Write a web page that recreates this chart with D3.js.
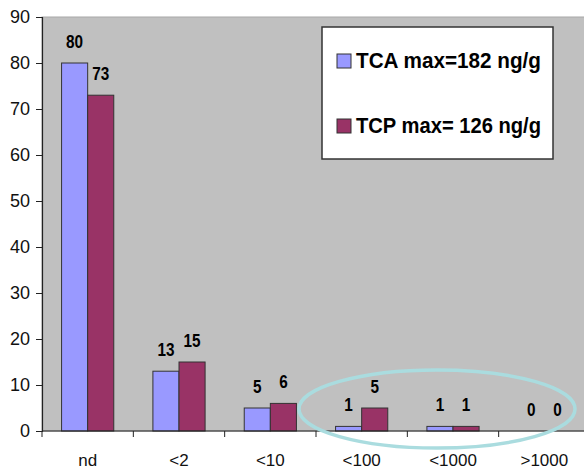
<!DOCTYPE html>
<html>
<head>
<meta charset="utf-8">
<script src="https://cdn.jsdelivr.net/npm/d3@7"></script>
<style>
  html, body { margin: 0; padding: 0; background: #fff; }
  svg { display: block; }
</style>
</head>
<body>
<script>
// Concentration classes (ng/g) and percentage of samples in each class
const categories = ["nd", "<2", "<10", "<100", "<1000", ">1000"];
const seriesNames = ["TCA", "TCP"];
const tcaValues = [80, 13, 5, 1, 1, 0];
const tcpValues = [73, 15, 6, 5, 1, 0];
const legendLabels = ["TCA  max=182 ng/g", "TCP max= 126 ng/g"];
const yTicks = [0, 10, 20, 30, 40, 50, 60, 70, 80, 90];
const colors = ["#9999ff", "#993366"];

const W = 584, H = 470;
const margin = { left: 42, top: 17, right: -6, bottom: 39 };

const svg = d3.select("body").append("svg")
  .attr("width", W).attr("height", H);

const x0 = d3.scaleBand()
  .domain(categories)
  .range([margin.left, W - margin.right])
  .padding(0);

const x1 = d3.scaleBand()
  .domain(seriesNames)
  .range([0, x0.bandwidth()])
  .paddingInner(0)
  .paddingOuter(0.75);

const y = d3.scaleLinear()
  .domain([0, 90])
  .range([H - margin.bottom, margin.top]);

// plot background
svg.append("rect")
  .attr("x", margin.left).attr("y", y(90))
  .attr("width", W - margin.left + 10).attr("height", y(0) - y(90))
  .attr("fill", "#c0c0c0")
  .attr("stroke", "#a8a8a8").attr("stroke-width", 1);

const rows = categories.map((c, i) => ({ cat: c, vals: [tcaValues[i], tcpValues[i]] }));

const groups = svg.append("g").selectAll("g")
  .data(rows).join("g")
  .attr("transform", d => `translate(${x0(d.cat)},0)`);

groups.selectAll("rect")
  .data(d => d.vals.map((v, k) => ({ s: seriesNames[k], v, k })))
  .join("rect")
  .attr("x", d => x1(d.s))
  .attr("y", d => y(d.v))
  .attr("width", x1.bandwidth())
  .attr("height", d => y(0) - y(d.v))
  .attr("fill", d => colors[d.k])
  .attr("stroke", "#333")
  .attr("stroke-width", 1);

// value labels above the bars
groups.selectAll("g.lbl")
  .data(d => d.vals.map((v, k) => ({ s: seriesNames[k], v, k })))
  .join("g")
  .attr("class", "lbl")
  .attr("transform", d => `translate(${x1(d.s) + x1.bandwidth() / 2},${y(d.v) - 15}) scale(0.85,1)`)
  .append("text")
  .attr("text-anchor", "middle")
  .attr("font-family", "Liberation Sans, Arial, sans-serif")
  .attr("font-weight", "bold")
  .attr("font-size", 18)
  .attr("fill", "#000")
  .text(d => d.v);

// y axis
const yAxis = d3.axisLeft(y).tickValues(yTicks).tickSize(6).tickPadding(6);
const gy = svg.append("g")
  .attr("transform", `translate(${margin.left},0)`)
  .call(yAxis);
gy.select(".domain").attr("stroke", "#222").attr("stroke-width", 1.2);
gy.selectAll(".tick line").attr("stroke", "#222");
gy.selectAll("text")
  .attr("font-family", "Liberation Sans, Arial, sans-serif")
  .attr("font-size", 18).attr("fill", "#111");

// x axis: ticks on category boundaries, labels centred in each band
const gx = svg.append("g")
  .attr("transform", `translate(0,${y(0)})`);
gx.append("line")
  .attr("x1", margin.left).attr("x2", W)
  .attr("stroke", "#222").attr("stroke-width", 1.2);
gx.selectAll("line.tk")
  .data(categories.concat(["end"]))
  .join("line")
  .attr("class", "tk")
  .attr("x1", (d, i) => margin.left + i * x0.bandwidth())
  .attr("x2", (d, i) => margin.left + i * x0.bandwidth())
  .attr("y1", 0).attr("y2", 6)
  .attr("stroke", "#222");
gx.selectAll("text")
  .data(categories)
  .join("text")
  .attr("x", d => x0(d) + x0.bandwidth() / 2)
  .attr("y", 35)
  .attr("text-anchor", "middle")
  .attr("font-family", "Liberation Sans, Arial, sans-serif")
  .attr("font-size", 17).attr("fill", "#111")
  .text(d => d);

// legend
const lg = svg.append("g");
lg.append("rect")
  .attr("x", 322).attr("y", 27)
  .attr("width", 231).attr("height", 132)
  .attr("fill", "#fff")
  .attr("stroke", "#333").attr("stroke-width", 1.5);
const ly = [68, 133];
seriesNames.forEach((s, k) => {
  lg.append("rect")
    .attr("x", 337).attr("y", ly[k] - 14)
    .attr("width", 14).attr("height", 14)
    .attr("fill", colors[k])
    .attr("stroke", "#333").attr("stroke-width", 1);
  lg.append("text")
    .attr("x", 356).attr("y", ly[k])
    .attr("font-family", "Liberation Sans, Arial, sans-serif")
    .attr("font-weight", "bold")
    .attr("font-size", 22)
    .attr("textLength", 185)
    .attr("lengthAdjust", "spacingAndGlyphs")
    .attr("fill", "#000")
    .text(legendLabels[k]);
});

// highlight ring around the high-concentration classes
svg.append("ellipse")
  .attr("cx", 437).attr("cy", 409)
  .attr("rx", 138).attr("ry", 39)
  .attr("fill", "none")
  .attr("stroke", "#aadcdf")
  .attr("stroke-width", 3.5);
</script>
</body>
</html>
